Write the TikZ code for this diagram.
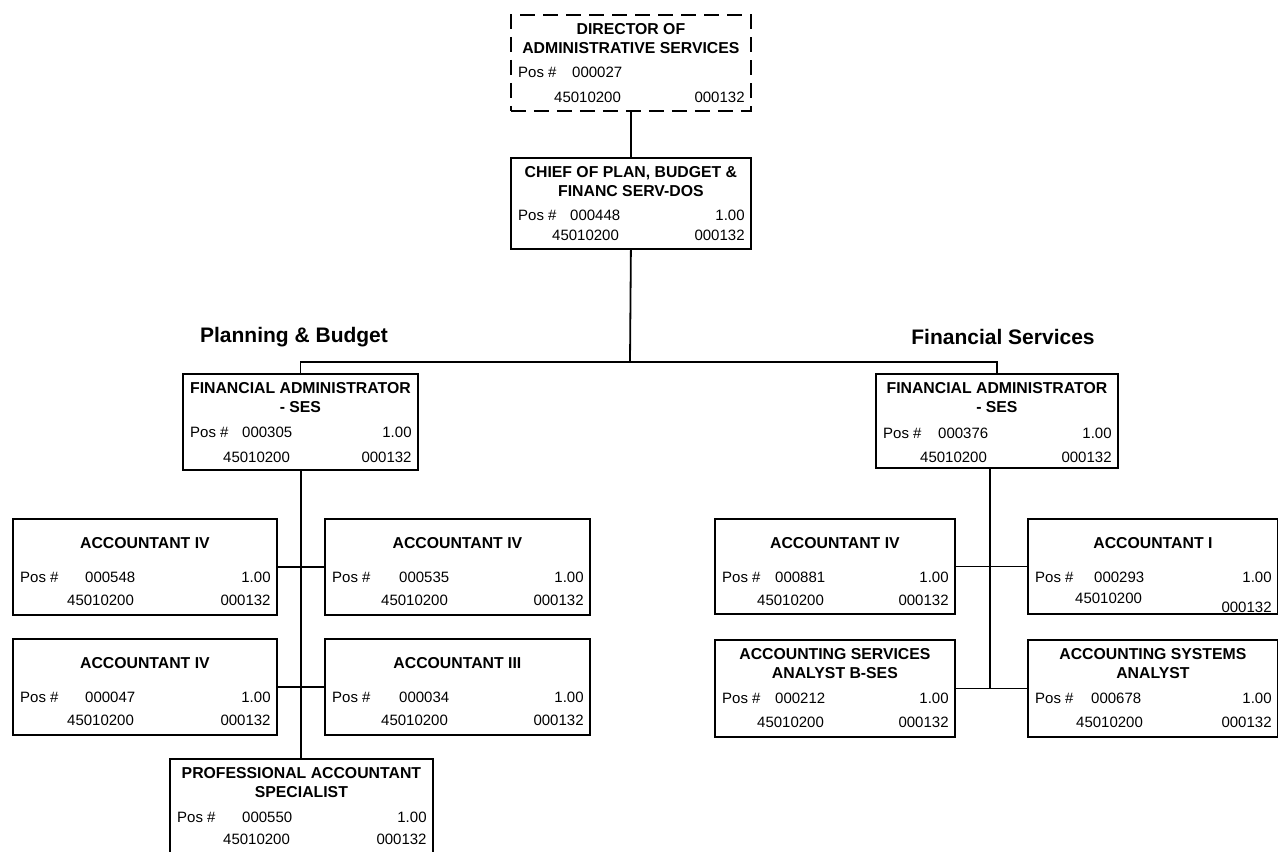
\documentclass[tikz,border=0pt]{standalone}
\usepackage{fontspec}
\setmainfont{Liberation Sans}
\usetikzlibrary{positioning}

\newcommand\boxfont{\fontsize{15}{19}\selectfont}

\tikzset{
  post/.style={draw, line width=1.8pt, anchor=north west, inner sep=0pt},
  vacant/.style={post, dash pattern=on 15pt off 8pt},
  ptitle/.style={font=\fontsize{15.8}{19}\selectfont\bfseries, align=center, inner sep=0pt},
  ptext/.style={font=\boxfont, inner sep=0pt},
  head/.style={font=\fontsize{21}{25}\selectfont\bfseries, inner sep=0pt},
  link/.style={line width=1.8pt},
}

% #1 box, #2 title, #3 pos no, #4 pos no x, #5 fte, #6 budget x,
% #7 pos row, #8 budget row, #9 class row
\newcommand\posinfo[9]{%
  \node[ptitle] (#1-t) at ([yshift=-25pt]#1.north) {#2};
  \node[ptext, anchor=base west] (#1-p) at ([shift={(8,#7)}]#1.north west) {Pos \#};
  \node[ptext, anchor=base west] (#1-n) at ([shift={(#4,#7)}]#1.north west) {#3};
  \node[ptext, anchor=base east] (#1-f) at ([shift={(-7,#7)}]#1.north east) {#5};
  \node[ptext, anchor=base west] (#1-b) at ([shift={(#6,#8)}]#1.north west) {45010200};
  \node[ptext, anchor=base east] (#1-c) at ([shift={(-7,#9)}]#1.north east) {000132};
}

\begin{document}
\begin{tikzpicture}[x=1pt, y=-1pt]
    \useasboundingbox (0,0) rectangle (1278,852);

    % top of the chart
    \node[vacant, minimum width=240pt, minimum height=96pt] (dir) at (510,14) {};
    \posinfo{dir}{DIRECTOR OF\\ADMINISTRATIVE SERVICES}{000027}{62}{}{44}{63}{88}{88}
    \node[post, minimum width=240pt, minimum height=91pt] (chief) at (510,157) {};
    \posinfo{chief}{CHIEF OF PLAN, BUDGET \&\\FINANC SERV-DOS}{000448}{60}{1.00}{42}{63}{83}{83}

    % section heads
    \node[head] (pb) at (294,337) {Planning \& Budget};
    \node[head] (fs) at (1003,337) {Financial Services};

    % Planning & Budget
    \node[post, minimum width=235pt, minimum height=96pt] (fal) at (182,373) {};
    \posinfo{fal}{FINANCIAL ADMINISTRATOR\\- SES}{000305}{60}{1.00}{41}{64}{89}{89}
    \node[post, minimum width=264pt, minimum height=96pt] (a1) at (12,518) {};
    \posinfo{a1}{ACCOUNTANT IV}{000548}{73}{1.00}{55}{64}{87}{87}
    \node[post, minimum width=265pt, minimum height=96pt] (a2) at (324,518) {};
    \posinfo{a2}{ACCOUNTANT IV}{000535}{75}{1.00}{57}{64}{87}{87}
    \node[post, minimum width=264pt, minimum height=96pt] (a3) at (12,638) {};
    \posinfo{a3}{ACCOUNTANT IV}{000047}{73}{1.00}{55}{64}{87}{87}
    \node[post, minimum width=265pt, minimum height=96pt] (a4) at (324,638) {};
    \posinfo{a4}{ACCOUNTANT III}{000034}{75}{1.00}{57}{64}{87}{87}
    \node[post, minimum width=263pt, minimum height=96pt] (pas) at (169,758) {};
    \posinfo{pas}{PROFESSIONAL ACCOUNTANT\\SPECIALIST}{000550}{73}{1.00}{54}{64}{86}{86}

    % Financial Services
    \node[post, minimum width=242pt, minimum height=94pt] (far) at (875,373) {};
    \posinfo{far}{FINANCIAL ADMINISTRATOR\\- SES}{000376}{63}{1.00}{45}{65}{89}{89}
    \node[post, minimum width=240pt, minimum height=95pt] (b1) at (714,518) {};
    \posinfo{b1}{ACCOUNTANT IV}{000881}{61}{1.00}{43}{64}{87}{87}
    \node[post, minimum width=250pt, minimum height=95pt] (b2) at (1027,518) {};
    \posinfo{b2}{ACCOUNTANT I}{000293}{67}{1.00}{48}{64}{85}{94}
    \node[post, minimum width=240pt, minimum height=97pt] (b3) at (714,639) {};
    \posinfo{b3}{ACCOUNTING SERVICES\\ANALYST B-SES}{000212}{61}{1.00}{43}{64}{88}{88}
    \node[post, minimum width=250pt, minimum height=97pt] (b4) at (1027,639) {};
    \posinfo{b4}{ACCOUNTING SYSTEMS\\ANALYST}{000678}{64}{1.00}{49}{64}{88}{88}

    % lines
    \coordinate (bus) at (630,362);
    \coordinate (lt) at (301,0);
    \coordinate (rt) at (990,0);
    \draw[link] (dir) -- (chief);
    \draw[link] (chief.south) -- (bus);
    \draw[link] (fal.north) |- (bus) -| (far.north);
    \draw[link] (fal.south -| lt) -- (pas.north -| lt);
    \draw[link] (a1.east) -- (a2.west);
    \draw[link] (a3.east) -- (a4.west);
    \draw[link] (far.south -| rt) -- (rt |- b3.east);
    \draw[link] (b1.east) -- (b2.west);
    \draw[link] (b3.east) -- (b4.west);
\end{tikzpicture}
\end{document}
